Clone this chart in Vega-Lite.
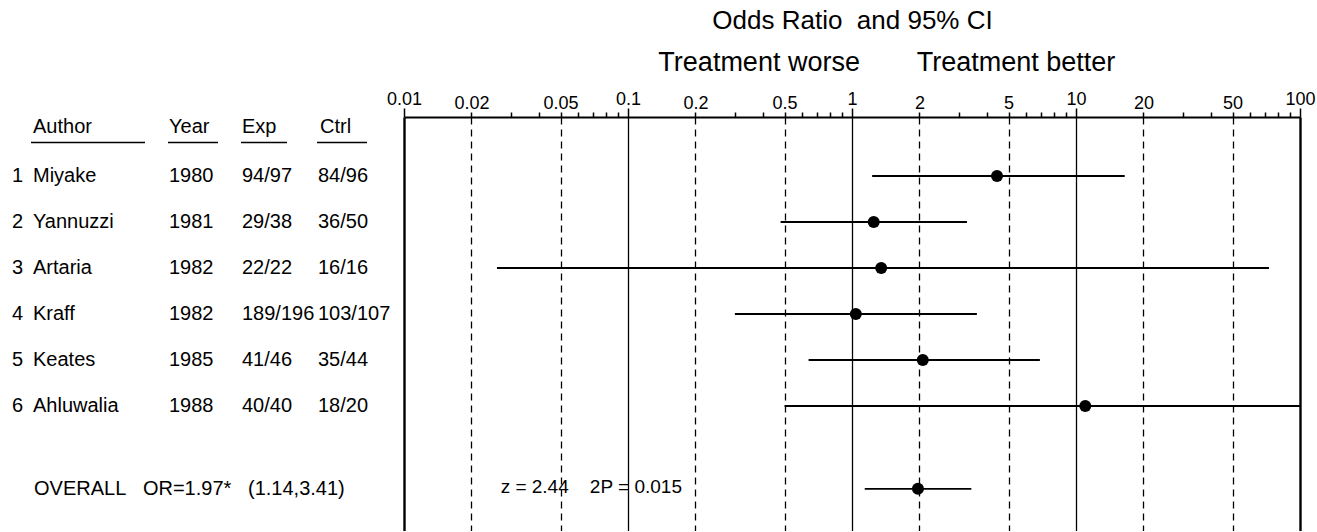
{
  "$schema": "https://vega.github.io/schema/vega-lite/v6.json",
  "background": "white",
  "padding": {"left": 0, "top": 7, "right": 6, "bottom": 0},
  "bounds": "flush",
  "spacing": 0,
  "config": {"view": {"stroke": null}, "font": "Liberation Sans, Arial, sans-serif"},
  "datasets": {
    "rows": [
      {"num": "1", "author": "Miyake", "year": "1980", "exp": "94/97", "ctrl": "84/96", "label": "", "or": 4.44, "lo": 1.23, "hi": 16.5, "row": 1},
      {"num": "2", "author": "Yannuzzi", "year": "1981", "exp": "29/38", "ctrl": "36/50", "label": "", "or": 1.25, "lo": 0.48, "hi": 3.26, "row": 2},
      {"num": "3", "author": "Artaria", "year": "1982", "exp": "22/22", "ctrl": "16/16", "label": "", "or": 1.35, "lo": 0.026, "hi": 72.7, "row": 3},
      {"num": "4", "author": "Kraff", "year": "1982", "exp": "189/196", "ctrl": "103/107", "label": "", "or": 1.04, "lo": 0.30, "hi": 3.61, "row": 4},
      {"num": "5", "author": "Keates", "year": "1985", "exp": "41/46", "ctrl": "35/44", "label": "", "or": 2.07, "lo": 0.64, "hi": 6.9, "row": 5},
      {"num": "6", "author": "Ahluwalia", "year": "1988", "exp": "40/40", "ctrl": "18/20", "label": "", "or": 11.0, "lo": 0.50, "hi": 100, "row": 6},
      {"num": "", "author": "", "year": "", "exp": "", "ctrl": "", "label": "OVERALL\u00a0\u00a0\u00a0OR=1.97*\u00a0\u00a0\u00a0(1.14,3.41)", "or": 1.97, "lo": 1.14, "hi": 3.41, "row": 7.8}
    ],
    "headers": [
      {"h": "Author", "c": 33, "s": 31, "e": 145},
      {"h": "Year", "c": 169, "s": 168, "e": 218},
      {"h": "Exp", "c": 242, "s": 241, "e": 287},
      {"h": "Ctrl", "c": 320, "s": 317, "e": 367}
    ]
  },
  "hconcat": [
    {
      "width": 404,
      "height": 414,
      "layer": [
        {"data": {"name": "rows"},
         "mark": {"type": "text", "align": "left", "baseline": "middle", "fontSize": 20, "color": "black"},
         "encoding": {
           "x": {"datum": 12, "type": "quantitative", "scale": {"domain": [0, 404], "nice": false, "zero": false}, "axis": null},
           "y": {"field": "row", "type": "quantitative", "scale": {"domain": [-0.283, 8.717], "reverse": true, "nice": false, "zero": false}, "axis": null},
           "text": {"field": "num"}}},
        {"data": {"name": "rows"},
         "mark": {"type": "text", "align": "left", "baseline": "middle", "fontSize": 20, "color": "black"},
         "encoding": {"x": {"datum": 33, "type": "quantitative"}, "y": {"field": "row", "type": "quantitative"}, "text": {"field": "author"}}},
        {"data": {"name": "rows"},
         "mark": {"type": "text", "align": "left", "baseline": "middle", "fontSize": 20, "color": "black"},
         "encoding": {"x": {"datum": 169, "type": "quantitative"}, "y": {"field": "row", "type": "quantitative"}, "text": {"field": "year"}}},
        {"data": {"name": "rows"},
         "mark": {"type": "text", "align": "left", "baseline": "middle", "fontSize": 20, "color": "black"},
         "encoding": {"x": {"datum": 242, "type": "quantitative"}, "y": {"field": "row", "type": "quantitative"}, "text": {"field": "exp"}}},
        {"data": {"name": "rows"},
         "mark": {"type": "text", "align": "left", "baseline": "middle", "fontSize": 20, "color": "black"},
         "encoding": {"x": {"datum": 318, "type": "quantitative"}, "y": {"field": "row", "type": "quantitative"}, "text": {"field": "ctrl"}}},
        {"data": {"name": "rows"},
         "mark": {"type": "text", "align": "left", "baseline": "middle", "fontSize": 20, "color": "black"},
         "encoding": {"x": {"datum": 34, "type": "quantitative"}, "y": {"field": "row", "type": "quantitative"}, "text": {"field": "label"}}},
        {"data": {"name": "headers"},
         "mark": {"type": "text", "align": "left", "baseline": "middle", "fontSize": 20, "color": "black"},
         "encoding": {"x": {"field": "c", "type": "quantitative"}, "y": {"datum": -0.066, "type": "quantitative"}, "text": {"field": "h"}}},
        {"data": {"name": "headers"},
         "mark": {"type": "rule", "color": "black", "strokeWidth": 1.5},
         "encoding": {"x": {"field": "s", "type": "quantitative"}, "x2": {"field": "e"}, "y": {"datum": 0.27, "type": "quantitative"}}}
      ]
    },
    {
      "width": 896,
      "height": 414,
      "layer": [
        {"data": {"name": "rows"},
         "mark": {"type": "rule", "color": "black", "strokeWidth": 1.8},
         "encoding": {
           "y": {"field": "row", "type": "quantitative", "scale": {"domain": [-0.283, 8.717], "reverse": true, "nice": false, "zero": false}, "axis": null},
           "x": {"field": "lo", "type": "quantitative",
             "scale": {"type": "log", "domain": [0.01, 100], "nice": false, "zero": false},
             "axis": {
               "orient": "top",
               "title": "Odds Ratio\u00a0\u00a0and 95% CI",
               "titleFont": "Liberation Sans",
               "titleFontSize": 26,
               "titleFontWeight": "normal",
               "titleColor": "black",
               "titlePadding": 57,
               "values": [0.01,0.02,0.03,0.04,0.05,0.06,0.07,0.08,0.09,0.1,0.2,0.3,0.4,0.5,0.6,0.7,0.8,0.9,1,2,3,4,5,6,7,8,9,10,20,30,40,50,60,70,80,90,100],
               "format": "~g",
               "labelExpr": "indexof([0.01,0.02,0.05,0.1,0.2,0.5,1,2,5,10,20,50,100], datum.value) >= 0 ? datum.label : ''",
               "labelOverlap": false,
               "labelFont": "Liberation Sans",
               "labelFontSize": 18,
               "labelColor": "black",
               "labelPadding": 0,
               "labelBound": false,
               "labelFlush": false,
               "domainColor": "black",
               "domainWidth": 2.2,
               "tickColor": "black",
               "tickWidth": 1.5,
               "tickSize": {"condition": {"test": "indexof([0.01,0.1,1,10,100], datum.value) >= 0", "value": 9}, "value": 5},
               "grid": true,
               "gridColor": "black",
               "gridOpacity": {"condition": {"test": "indexof([0.01,0.02,0.05,0.1,0.2,0.5,1,2,5,10,20,50,100], datum.value) >= 0", "value": 1}, "value": 0},
               "gridDash": {"condition": {"test": "indexof([0.02,0.05,0.2,0.5,2,5,20,50], datum.value) >= 0", "value": [7, 5]}, "value": []},
               "gridWidth": {"condition": {"test": "datum.value == 0.01 || datum.value == 100", "value": 2.4}, "value": 1.3}
             }},
           "x2": {"field": "hi"}
         }},
        {"data": {"name": "rows"},
         "mark": {"type": "point", "shape": "circle", "filled": true, "size": 145, "color": "black", "opacity": 1},
         "encoding": {
           "y": {"field": "row", "type": "quantitative"},
           "x": {"field": "or", "type": "quantitative"}}},
        {"data": {"values": [{"t": "Treatment worse", "p": 0.385}, {"t": "Treatment better", "p": 5.4}]},
         "mark": {"type": "text", "align": "center", "baseline": "middle", "font": "Liberation Sans", "fontSize": 27, "color": "black"},
         "encoding": {"x": {"field": "p", "type": "quantitative"}, "y": {"datum": -1.457, "type": "quantitative"}, "text": {"field": "t"}}},
        {"data": {"values": [{"t": "z = 2.44\u00a0\u00a0\u00a0\u00a02P = 0.015", "p": 0.027}]},
         "mark": {"type": "text", "align": "left", "baseline": "middle", "fontSize": 19, "color": "black"},
         "encoding": {"x": {"field": "p", "type": "quantitative"}, "y": {"datum": 7.76, "type": "quantitative"}, "text": {"field": "t"}}}
      ]
    }
  ]
}
